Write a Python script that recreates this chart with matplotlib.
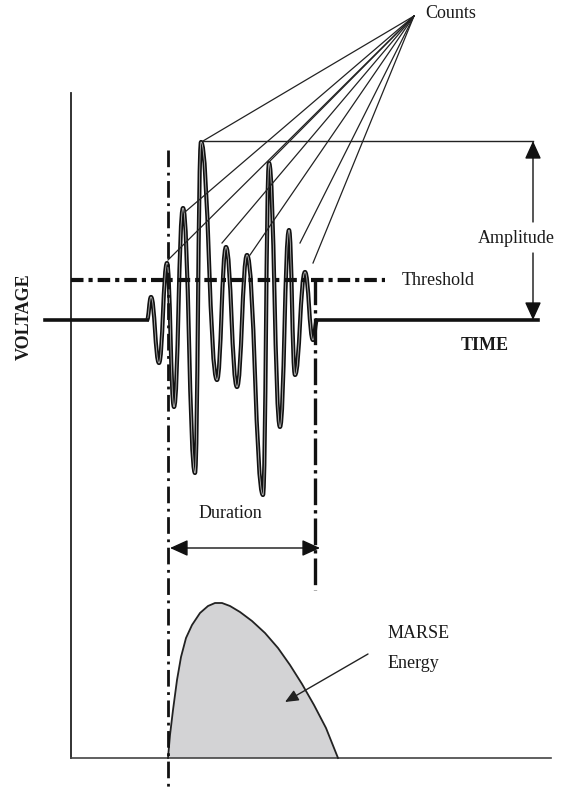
import matplotlib
matplotlib.use("Agg")
import matplotlib.pyplot as plt
from matplotlib.patches import Polygon, PathPatch
from matplotlib.path import Path

# ---- data (pixel-space diagram coordinates) ----
wave_x = [147, 151, 159, 167, 174, 183, 195, 201, 217, 226, 237, 247, 263, 269, 280, 289, 295, 305, 313, 317]
wave_y = [320, 297, 363, 263, 407, 208, 473, 142, 380, 247, 387, 255, 495, 163, 427, 230, 375, 272, 340, 320]
base_left = [45, 147]
base_right = [317, 538]

count_targets_x = [203, 168, 185, 222, 250, 268, 300, 313]
count_targets_y = [141, 260, 212, 243, 255, 163, 243, 263]
counts_origin = (414, 16)

energy_x = [168, 170, 173, 177, 181, 186, 192, 200, 208, 215, 222, 230, 240, 252, 265, 278, 290, 302, 314, 326, 338]
energy_y = [758, 735, 710, 680, 657, 638, 625, 613, 606, 603, 603, 606, 612, 621, 633, 648, 665, 684, 705, 728, 758]

threshold_y = 280
baseline_y = 320
peak_y = 141
start_x = 168
end_x = 315

fig = plt.figure(figsize=(5.61, 7.88), dpi=100)
ax = fig.add_axes([0, 0, 1, 1])
ax.set_xlim(0, 561)
ax.set_ylim(788, 0)
ax.axis("off")

serif = "Liberation Serif"

# axes lines
ax.plot([71, 71], [93, 758], color="#222222", lw=1.3)
ax.plot([71, 551], [758, 758], color="#444444", lw=1.2)

# energy envelope
ax.add_patch(Polygon(list(zip(energy_x, energy_y)), closed=True, facecolor="#d3d3d5", edgecolor="none"))
ax.plot(energy_x, energy_y, color="#222222", lw=1.3)

# threshold
ax.plot([71, 385], [threshold_y, threshold_y], color="#111111", lw=3, dashes=(3, 1.2, 1, 1.2))

# count lines
for tx, ty in zip(count_targets_x, count_targets_y):
    ax.plot([counts_origin[0], tx], [counts_origin[1], ty], color="#222222", lw=0.9)

# amplitude top line
ax.plot([203, 533], [peak_y, peak_y], color="#222222", lw=1.0)

# waveform: smooth cubic segments between successive extrema (horizontal tangents)
verts = [(wave_x[0], wave_y[0])]
codes = [Path.MOVETO]
for i in range(1, len(wave_x)):
    x0, y0 = wave_x[i - 1], wave_y[i - 1]
    x1, y1 = wave_x[i], wave_y[i]
    dx = (x1 - x0) * 0.45
    verts += [(x0 + dx, y0), (x1 - dx, y1), (x1, y1)]
    codes += [Path.CURVE4] * 3
wpath = Path(verts, codes)
ax.plot(base_left, [baseline_y, baseline_y], color="#111111", lw=2.6)
ax.plot(base_right, [baseline_y, baseline_y], color="#111111", lw=2.6)
ax.add_patch(PathPatch(wpath, facecolor="none", edgecolor="#111111", lw=3.0, joinstyle="round"))
ax.add_patch(PathPatch(wpath, facecolor="none", edgecolor="#b5b5b5", lw=0.6, joinstyle="round"))

# dash-dot verticals
ax.plot([start_x, start_x], [150, 788], color="#111111", lw=2.0, dashes=(6, 2, 1, 2))
ax.plot([end_x, end_x], [278, 590], color="#111111", lw=2.4, dashes=(8, 1.5, 1, 1.5))

# amplitude arrows
arrow_kw = dict(arrowstyle="-|>,head_length=1.1,head_width=0.5", color="#111111", lw=1.0, shrinkA=0, shrinkB=0)
ax.annotate("", xy=(533, peak_y), xytext=(533, 222), arrowprops=arrow_kw)
ax.annotate("", xy=(533, baseline_y), xytext=(533, 253), arrowprops=arrow_kw)

# duration arrow
ax.annotate("", xy=(170, 548), xytext=(320, 548),
            arrowprops=dict(arrowstyle="<|-|>,head_length=1.1,head_width=0.5", color="#111111", lw=1.0,
                            shrinkA=0, shrinkB=0))

# energy arrow
ax.annotate("", xy=(285, 702), xytext=(368, 654),
            arrowprops=dict(arrowstyle="-|>,head_length=0.8,head_width=0.35", color="#222222", lw=1.0,
                            shrinkA=0, shrinkB=0))

# texts
tk = dict(family=serif, fontsize=13, color="#1a1a1a")
ax.text(425, 13, "Counts", ha="left", va="center", **tk)
ax.text(516, 238, "Amplitude", ha="center", va="center", **tk)
ax.text(402, 280, "Threshold", ha="left", va="center", **tk)
ax.text(461, 345, "TIME", ha="left", va="center", fontweight="bold", **tk)
ax.text(24, 317, "VOLTAGE", ha="center", va="center", rotation=90, fontweight="bold", **tk)
ax.text(230, 514, "Duration", ha="center", va="center", **tk)
ax.text(388, 634, "MARSE", ha="left", va="center", **tk)
ax.text(388, 663, "Energy", ha="left", va="center", **tk)

fig.savefig("out.png", dpi=100)
